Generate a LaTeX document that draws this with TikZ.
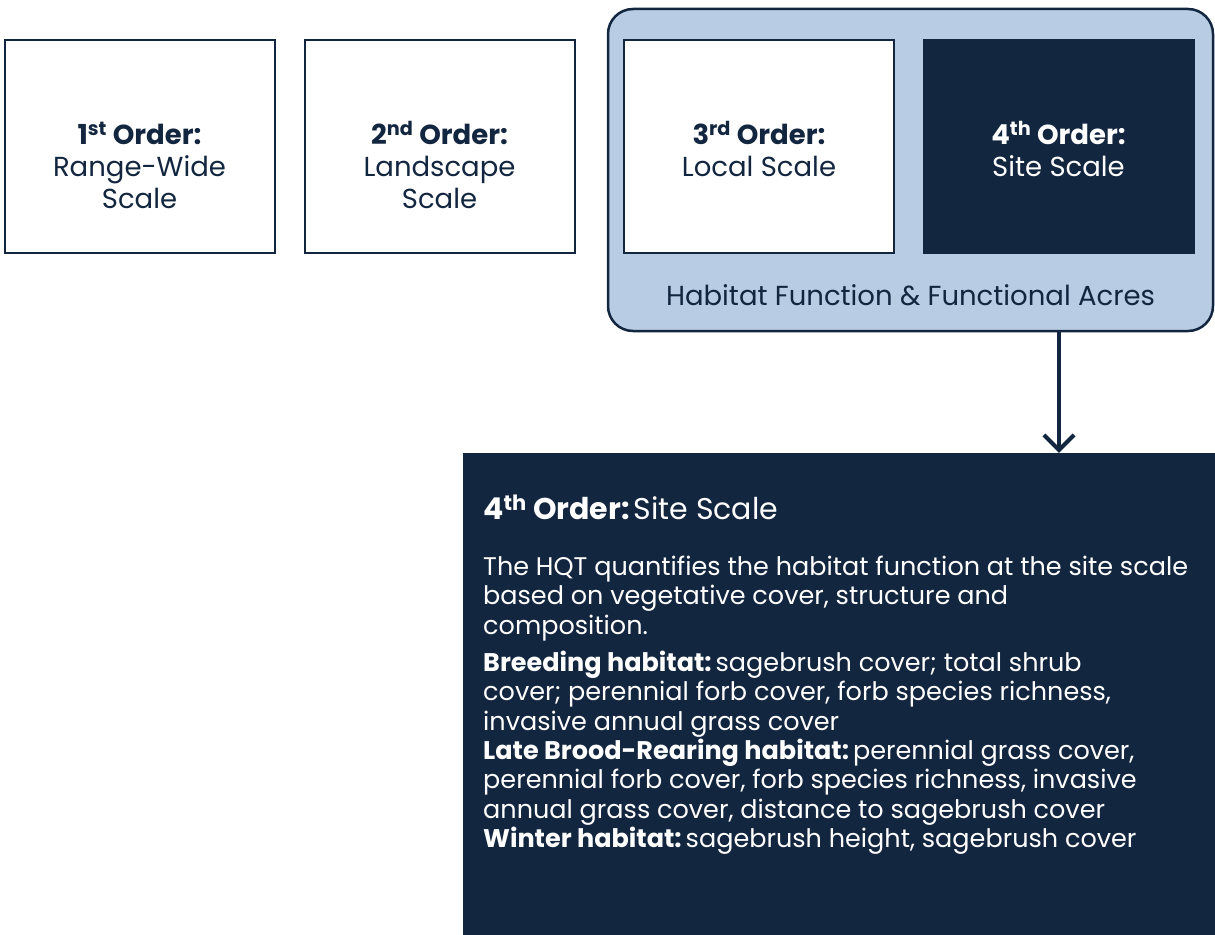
\documentclass[tikz,border=0pt]{standalone}
\usepackage{fontspec}
\setmainfont{Poppins}
\usetikzlibrary{arrows.meta}

\definecolor{navy}{HTML}{13263F}
\definecolor{paleblue}{HTML}{B8CCE4}

\tikzset{
	scalebox/.style={draw=navy, line width=2pt, fill=white, minimum width=270pt, minimum height=213pt, inner sep=0pt},
	scaletext/.style={anchor=north, align=center, text=navy, inner sep=0pt, font=\fontsize{27.5}{32}\selectfont},
	sitetext/.style={anchor=north west, align=left, text=white, inner sep=0pt, font=\fontsize{25.5}{29.3}\selectfont},
}

\begin{document}
\begin{tikzpicture}[x=1pt, y=-1pt]
	\useasboundingbox (0,0) rectangle (1215,934);
	\coordinate (drop) at (1059,0);

	\node[draw=navy, line width=2.5pt, fill=paleblue, rounded corners=25pt, minimum width=605pt, minimum height=322pt] (outer) at (910.5,170) {};

	\node[scalebox] (first) at (139.5,146.5) {};
	\node[scalebox] (second) at (439.5,146.5) {};
	\node[scalebox] (third) at (759,146.5) {};
	\node[scalebox, fill=navy] (fourth) at (1058.5,146.5) {};

	\node[scaletext] (firstlabel) at ([yshift=-82.5pt]first.north) {\textbf{1\textsuperscript{st} Order:}\\Range-Wide\\Scale};
	\node[scaletext] (secondlabel) at ([yshift=-82.5pt]second.north) {\textbf{2\textsuperscript{nd} Order:}\\Landscape\\Scale};
	\node[scaletext] (thirdlabel) at ([yshift=-82.5pt]third.north) {\textbf{3\textsuperscript{rd} Order:}\\Local Scale};
	\node[scaletext, text=white] (fourthlabel) at ([yshift=-82.5pt]fourth.north) {\textbf{4\textsuperscript{th} Order:}\\Site Scale};

	\node[scaletext, anchor=center] (acres) at (910.5,295) {Habitat Function \& Functional Acres};

	\node[fill=navy, minimum width=752pt, minimum height=482pt, inner sep=0pt] (site) at (839,694) {};
	\draw[navy, line width=4pt, -{Straight Barb[length=15pt, width=30pt]}] (outer.south -| drop) -- (site.north -| drop);

	\node[sitetext, font=\fontsize{30}{34}\selectfont] (title) at (483,495) {\textbf{4\textsuperscript{th} Order:}\hspace{4pt}Site Scale};
	\node[sitetext] (summary) at (483,556) {The HQT quantifies the habitat function at the site scale\\based on vegetative cover, structure and\\composition.};
	\node[sitetext] (habitats) at (483,651) {\textbf{Breeding habitat:}\hspace{4pt}sagebrush cover; total shrub\\cover; perennial forb cover, forb species richness,\\invasive annual grass cover\\\textbf{Late Brood-Rearing habitat:}\hspace{4pt}perennial grass cover,\\perennial forb cover, forb species richness, invasive\\annual grass cover, distance to sagebrush cover\\\textbf{Winter habitat:}\hspace{4pt}sagebrush height, sagebrush cover};
\end{tikzpicture}
\end{document}
